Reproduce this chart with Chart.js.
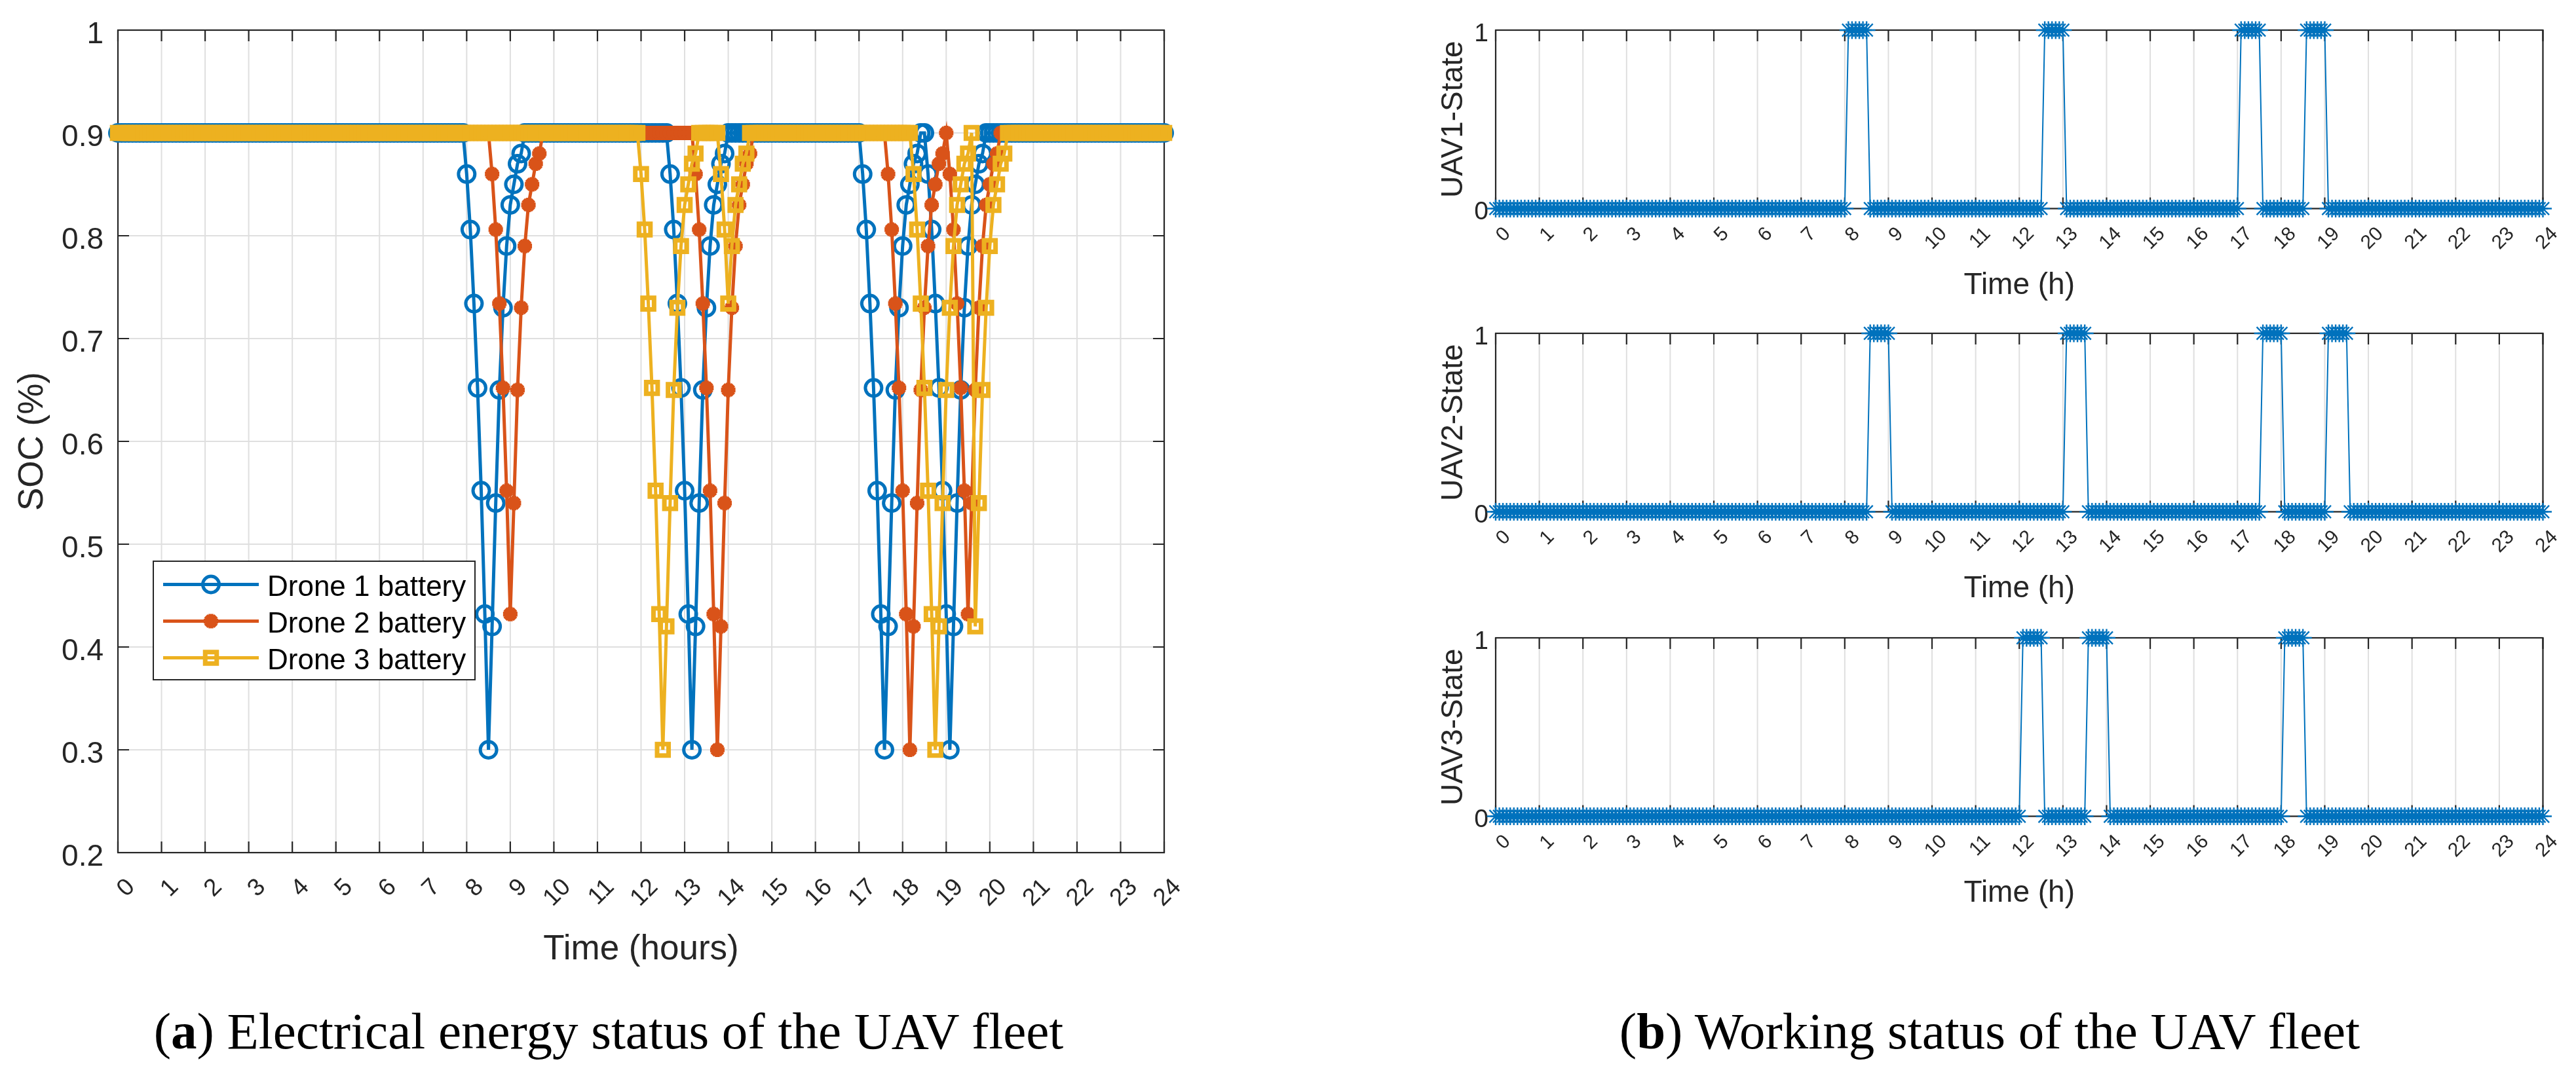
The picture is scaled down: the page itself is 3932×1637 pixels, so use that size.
<!DOCTYPE html>
<html>
<head>
<meta charset="utf-8">
<title>UAV fleet</title>
<script src="https://cdn.jsdelivr.net/npm/chart.js@4.4.1/dist/chart.umd.min.js"></script>
<style>
  html, body { margin: 0; padding: 0; background: #fff; }
  body { width: 3932px; height: 1637px; position: relative; overflow: hidden; }
  canvas { position: absolute; }
  .caption {
    position: absolute; top: 1535px; line-height: 79px; white-space: nowrap;
    font-family: "Liberation Serif", "Times New Roman", serif; font-size: 79px; color: #000;
    transform: translateX(-50%);
  }
</style>
</head>
<body>
<canvas id="socChart" width="1960" height="1500" style="left:0;top:0"></canvas>
<canvas id="uav1" width="1972" height="460" style="left:1960px;top:0"></canvas>
<canvas id="uav2" width="1972" height="460" style="left:1960px;top:463px"></canvas>
<canvas id="uav3" width="1972" height="460" style="left:1960px;top:928px"></canvas>
<div class="caption" style="left:929px">(<b>a</b>) Electrical energy status of the UAV fleet</div>
<div class="caption" style="left:3037px">(<b>b</b>) Working status of the UAV fleet</div>
<script>
// samples every 5 min from 0 h to 24 h, two hours per row
const socDrone1 = [
  0.9,0.9,0.9,0.9,0.9,0.9,0.9,0.9,0.9,0.9,0.9,0.9, 0.9,0.9,0.9,0.9,0.9,0.9,0.9,0.9,0.9,0.9,0.9,0.9,
  0.9,0.9,0.9,0.9,0.9,0.9,0.9,0.9,0.9,0.9,0.9,0.9, 0.9,0.9,0.9,0.9,0.9,0.9,0.9,0.9,0.9,0.9,0.9,0.9,
  0.9,0.9,0.9,0.9,0.9,0.9,0.9,0.9,0.9,0.9,0.9,0.9, 0.9,0.9,0.9,0.9,0.9,0.9,0.9,0.9,0.9,0.9,0.9,0.9,
  0.9,0.9,0.9,0.9,0.9,0.9,0.9,0.9,0.9,0.9,0.9,0.9, 0.9,0.9,0.9,0.9,0.9,0.9,0.9,0.9,0.9,0.9,0.9,0.9,
  0.86,0.806,0.734,0.652,0.552,0.432,0.3,0.42,0.54,0.65,0.73,0.79, 0.83,0.85,0.87,0.88,0.9,0.9,0.9,0.9,0.9,0.9,0.9,0.9,
  0.9,0.9,0.9,0.9,0.9,0.9,0.9,0.9,0.9,0.9,0.9,0.9, 0.9,0.9,0.9,0.9,0.9,0.9,0.9,0.9,0.9,0.9,0.9,0.9,
  0.9,0.9,0.9,0.9,0.9,0.9,0.9,0.9,0.86,0.806,0.734,0.652, 0.552,0.432,0.3,0.42,0.54,0.65,0.73,0.79,0.83,0.85,0.87,0.88,
  0.9,0.9,0.9,0.9,0.9,0.9,0.9,0.9,0.9,0.9,0.9,0.9, 0.9,0.9,0.9,0.9,0.9,0.9,0.9,0.9,0.9,0.9,0.9,0.9,
  0.9,0.9,0.9,0.9,0.9,0.9,0.9,0.9,0.9,0.9,0.9,0.9, 0.9,0.86,0.806,0.734,0.652,0.552,0.432,0.3,0.42,0.54,0.65,0.73,
  0.79,0.83,0.85,0.87,0.88,0.9,0.9,0.86,0.806,0.734,0.652,0.552, 0.432,0.3,0.42,0.54,0.65,0.73,0.79,0.83,0.85,0.87,0.88,0.9,
  0.9,0.9,0.9,0.9,0.9,0.9,0.9,0.9,0.9,0.9,0.9,0.9, 0.9,0.9,0.9,0.9,0.9,0.9,0.9,0.9,0.9,0.9,0.9,0.9,
  0.9,0.9,0.9,0.9,0.9,0.9,0.9,0.9,0.9,0.9,0.9,0.9, 0.9,0.9,0.9,0.9,0.9,0.9,0.9,0.9,0.9,0.9,0.9,0.9,
  0.9
];
const socDrone2 = [
  0.9,0.9,0.9,0.9,0.9,0.9,0.9,0.9,0.9,0.9,0.9,0.9, 0.9,0.9,0.9,0.9,0.9,0.9,0.9,0.9,0.9,0.9,0.9,0.9,
  0.9,0.9,0.9,0.9,0.9,0.9,0.9,0.9,0.9,0.9,0.9,0.9, 0.9,0.9,0.9,0.9,0.9,0.9,0.9,0.9,0.9,0.9,0.9,0.9,
  0.9,0.9,0.9,0.9,0.9,0.9,0.9,0.9,0.9,0.9,0.9,0.9, 0.9,0.9,0.9,0.9,0.9,0.9,0.9,0.9,0.9,0.9,0.9,0.9,
  0.9,0.9,0.9,0.9,0.9,0.9,0.9,0.9,0.9,0.9,0.9,0.9, 0.9,0.9,0.9,0.9,0.9,0.9,0.9,0.9,0.9,0.9,0.9,0.9,
  0.9,0.9,0.9,0.9,0.9,0.9,0.9,0.86,0.806,0.734,0.652,0.552, 0.432,0.54,0.65,0.73,0.79,0.83,0.85,0.87,0.88,0.9,0.9,0.9,
  0.9,0.9,0.9,0.9,0.9,0.9,0.9,0.9,0.9,0.9,0.9,0.9, 0.9,0.9,0.9,0.9,0.9,0.9,0.9,0.9,0.9,0.9,0.9,0.9,
  0.9,0.9,0.9,0.9,0.9,0.9,0.9,0.9,0.9,0.9,0.9,0.9, 0.9,0.9,0.9,0.86,0.806,0.734,0.652,0.552,0.432,0.3,0.42,0.54,
  0.65,0.73,0.79,0.83,0.85,0.87,0.88,0.9,0.9,0.9,0.9,0.9, 0.9,0.9,0.9,0.9,0.9,0.9,0.9,0.9,0.9,0.9,0.9,0.9,
  0.9,0.9,0.9,0.9,0.9,0.9,0.9,0.9,0.9,0.9,0.9,0.9, 0.9,0.9,0.9,0.9,0.9,0.9,0.9,0.9,0.86,0.806,0.734,0.652,
  0.552,0.432,0.3,0.42,0.54,0.65,0.73,0.79,0.83,0.85,0.87,0.88, 0.9,0.86,0.806,0.734,0.652,0.552,0.432,0.54,0.65,0.73,0.79,0.83,
  0.85,0.87,0.88,0.9,0.9,0.9,0.9,0.9,0.9,0.9,0.9,0.9, 0.9,0.9,0.9,0.9,0.9,0.9,0.9,0.9,0.9,0.9,0.9,0.9,
  0.9,0.9,0.9,0.9,0.9,0.9,0.9,0.9,0.9,0.9,0.9,0.9, 0.9,0.9,0.9,0.9,0.9,0.9,0.9,0.9,0.9,0.9,0.9,0.9,
  0.9
];
const socDrone3 = [
  0.9,0.9,0.9,0.9,0.9,0.9,0.9,0.9,0.9,0.9,0.9,0.9, 0.9,0.9,0.9,0.9,0.9,0.9,0.9,0.9,0.9,0.9,0.9,0.9,
  0.9,0.9,0.9,0.9,0.9,0.9,0.9,0.9,0.9,0.9,0.9,0.9, 0.9,0.9,0.9,0.9,0.9,0.9,0.9,0.9,0.9,0.9,0.9,0.9,
  0.9,0.9,0.9,0.9,0.9,0.9,0.9,0.9,0.9,0.9,0.9,0.9, 0.9,0.9,0.9,0.9,0.9,0.9,0.9,0.9,0.9,0.9,0.9,0.9,
  0.9,0.9,0.9,0.9,0.9,0.9,0.9,0.9,0.9,0.9,0.9,0.9, 0.9,0.9,0.9,0.9,0.9,0.9,0.9,0.9,0.9,0.9,0.9,0.9,
  0.9,0.9,0.9,0.9,0.9,0.9,0.9,0.9,0.9,0.9,0.9,0.9, 0.9,0.9,0.9,0.9,0.9,0.9,0.9,0.9,0.9,0.9,0.9,0.9,
  0.9,0.9,0.9,0.9,0.9,0.9,0.9,0.9,0.9,0.9,0.9,0.9, 0.9,0.9,0.9,0.9,0.9,0.9,0.9,0.9,0.9,0.9,0.9,0.9,
  0.86,0.806,0.734,0.652,0.552,0.432,0.3,0.42,0.54,0.65,0.73,0.79, 0.83,0.85,0.87,0.88,0.9,0.9,0.9,0.9,0.9,0.9,0.86,0.806,
  0.734,0.79,0.83,0.85,0.87,0.88,0.9,0.9,0.9,0.9,0.9,0.9, 0.9,0.9,0.9,0.9,0.9,0.9,0.9,0.9,0.9,0.9,0.9,0.9,
  0.9,0.9,0.9,0.9,0.9,0.9,0.9,0.9,0.9,0.9,0.9,0.9, 0.9,0.9,0.9,0.9,0.9,0.9,0.9,0.9,0.9,0.9,0.9,0.9,
  0.9,0.9,0.9,0.86,0.806,0.734,0.652,0.552,0.432,0.3,0.42,0.54, 0.65,0.73,0.79,0.83,0.85,0.87,0.88,0.9,0.42,0.54,0.65,0.73,
  0.79,0.83,0.85,0.87,0.88,0.9,0.9,0.9,0.9,0.9,0.9,0.9, 0.9,0.9,0.9,0.9,0.9,0.9,0.9,0.9,0.9,0.9,0.9,0.9,
  0.9,0.9,0.9,0.9,0.9,0.9,0.9,0.9,0.9,0.9,0.9,0.9, 0.9,0.9,0.9,0.9,0.9,0.9,0.9,0.9,0.9,0.9,0.9,0.9,
  0.9
];

const stateUav1 = [
  0,0,0,0,0,0,0,0,0,0,0,0, 0,0,0,0,0,0,0,0,0,0,0,0,
  0,0,0,0,0,0,0,0,0,0,0,0, 0,0,0,0,0,0,0,0,0,0,0,0,
  0,0,0,0,0,0,0,0,0,0,0,0, 0,0,0,0,0,0,0,0,0,0,0,0,
  0,0,0,0,0,0,0,0,0,0,0,0, 0,0,0,0,0,0,0,0,0,0,0,0,
  0,1,1,1,1,1,1,0,0,0,0,0, 0,0,0,0,0,0,0,0,0,0,0,0,
  0,0,0,0,0,0,0,0,0,0,0,0, 0,0,0,0,0,0,0,0,0,0,0,0,
  0,0,0,0,0,0,0,1,1,1,1,1, 1,0,0,0,0,0,0,0,0,0,0,0,
  0,0,0,0,0,0,0,0,0,0,0,0, 0,0,0,0,0,0,0,0,0,0,0,0,
  0,0,0,0,0,0,0,0,0,0,0,0, 0,1,1,1,1,1,1,0,0,0,0,0,
  0,0,0,0,0,0,0,1,1,1,1,1, 1,0,0,0,0,0,0,0,0,0,0,0,
  0,0,0,0,0,0,0,0,0,0,0,0, 0,0,0,0,0,0,0,0,0,0,0,0,
  0,0,0,0,0,0,0,0,0,0,0,0, 0,0,0,0,0,0,0,0,0,0,0,0,
  0
];
const stateUav2 = [
  0,0,0,0,0,0,0,0,0,0,0,0, 0,0,0,0,0,0,0,0,0,0,0,0,
  0,0,0,0,0,0,0,0,0,0,0,0, 0,0,0,0,0,0,0,0,0,0,0,0,
  0,0,0,0,0,0,0,0,0,0,0,0, 0,0,0,0,0,0,0,0,0,0,0,0,
  0,0,0,0,0,0,0,0,0,0,0,0, 0,0,0,0,0,0,0,0,0,0,0,0,
  0,0,0,0,0,0,0,1,1,1,1,1, 1,0,0,0,0,0,0,0,0,0,0,0,
  0,0,0,0,0,0,0,0,0,0,0,0, 0,0,0,0,0,0,0,0,0,0,0,0,
  0,0,0,0,0,0,0,0,0,0,0,0, 0,1,1,1,1,1,1,0,0,0,0,0,
  0,0,0,0,0,0,0,0,0,0,0,0, 0,0,0,0,0,0,0,0,0,0,0,0,
  0,0,0,0,0,0,0,0,0,0,0,0, 0,0,0,0,0,0,0,1,1,1,1,1,
  1,0,0,0,0,0,0,0,0,0,0,0, 0,1,1,1,1,1,1,0,0,0,0,0,
  0,0,0,0,0,0,0,0,0,0,0,0, 0,0,0,0,0,0,0,0,0,0,0,0,
  0,0,0,0,0,0,0,0,0,0,0,0, 0,0,0,0,0,0,0,0,0,0,0,0,
  0
];
const stateUav3 = [
  0,0,0,0,0,0,0,0,0,0,0,0, 0,0,0,0,0,0,0,0,0,0,0,0,
  0,0,0,0,0,0,0,0,0,0,0,0, 0,0,0,0,0,0,0,0,0,0,0,0,
  0,0,0,0,0,0,0,0,0,0,0,0, 0,0,0,0,0,0,0,0,0,0,0,0,
  0,0,0,0,0,0,0,0,0,0,0,0, 0,0,0,0,0,0,0,0,0,0,0,0,
  0,0,0,0,0,0,0,0,0,0,0,0, 0,0,0,0,0,0,0,0,0,0,0,0,
  0,0,0,0,0,0,0,0,0,0,0,0, 0,0,0,0,0,0,0,0,0,0,0,0,
  0,1,1,1,1,1,1,0,0,0,0,0, 0,0,0,0,0,0,0,1,1,1,1,1,
  1,0,0,0,0,0,0,0,0,0,0,0, 0,0,0,0,0,0,0,0,0,0,0,0,
  0,0,0,0,0,0,0,0,0,0,0,0, 0,0,0,0,0,0,0,0,0,0,0,0,
  0,1,1,1,1,1,1,0,0,0,0,0, 0,0,0,0,0,0,0,0,0,0,0,0,
  0,0,0,0,0,0,0,0,0,0,0,0, 0,0,0,0,0,0,0,0,0,0,0,0,
  0,0,0,0,0,0,0,0,0,0,0,0, 0,0,0,0,0,0,0,0,0,0,0,0,
  0
];

const hourTicks = [0,1,2,3,4,5,6,7,8,9,10,11,12,13,14,15,16,17,18,19,20,21,22,23,24];
const hourLabels = ['0','1','2','3','4','5','6','7','8','9','10','11','12','13','14','15','16','17','18','19','20','21','22','23','24'];
const socTicks = [0.2,0.3,0.4,0.5,0.6,0.7,0.8,0.9,1];
const socLabels = ['0.2','0.3','0.4','0.5','0.6','0.7','0.8','0.9','1'];
const stateTicks = [0,1];
const stateLabels = ['0','1'];

// one sample every 5 minutes
const timeH = socDrone1.map((_, k) => k / 12);

const BLUE = '#0072BD', ORANGE = '#D95319', YELLOW = '#EDB120';
const AXIS_COLOR = '#262626', GRID_COLOR = '#dfdfdf';
const SANS = '"Liberation Sans", Arial, Helvetica, sans-serif';

function drawMarker(ctx, style, x, y, r) {
  ctx.beginPath();
  if (style === 'circle') {
    ctx.arc(x, y, r, 0, Math.PI * 2);
  } else if (style === 'rect') {
    const s = r * Math.SQRT1_2;
    ctx.rect(x - s, y - s, 2 * s, 2 * s);
  } else {
    for (let i = 0; i < 4; i++) {
      const dx = Math.sin(i * Math.PI / 4) * r, dy = Math.cos(i * Math.PI / 4) * r;
      ctx.moveTo(x - dx, y - dy);
      ctx.lineTo(x + dx, y + dy);
    }
  }
  ctx.stroke();
}

// matlab style box: grid, inner ticks, rotated tick labels, axis titles
const matlabAxes = {
  id: 'matlabAxes',
  beforeDatasetsDraw(chart, args, o) {
    const { ctx, chartArea: a } = chart;
    const sx = chart.scales.x, sy = chart.scales.y;
    ctx.save();

    ctx.strokeStyle = GRID_COLOR;
    ctx.lineWidth = 2;
    ctx.beginPath();
    o.xTicks.forEach(v => {
      const p = sx.getPixelForValue(v);
      ctx.moveTo(p, a.top); ctx.lineTo(p, a.bottom);
    });
    o.yTicks.forEach(v => {
      const p = sy.getPixelForValue(v);
      ctx.moveTo(a.left, p); ctx.lineTo(a.right, p);
    });
    ctx.stroke();

    ctx.strokeStyle = AXIS_COLOR;
    ctx.lineWidth = 2.2;
    ctx.beginPath();
    o.xTicks.forEach(v => {
      const p = sx.getPixelForValue(v);
      ctx.moveTo(p, a.bottom); ctx.lineTo(p, a.bottom - o.tickLen);
      ctx.moveTo(p, a.top); ctx.lineTo(p, a.top + o.tickLen);
    });
    o.yTicks.forEach(v => {
      const p = sy.getPixelForValue(v);
      ctx.moveTo(a.left, p); ctx.lineTo(a.left + o.tickLen, p);
      ctx.moveTo(a.right, p); ctx.lineTo(a.right - o.tickLen, p);
    });
    ctx.stroke();
    ctx.strokeRect(a.left, a.top, a.right - a.left, a.bottom - a.top);

    ctx.fillStyle = AXIS_COLOR;
    ctx.font = o.yFont + 'px ' + SANS;
    ctx.textAlign = 'right';
    ctx.textBaseline = 'alphabetic';
    o.yTicks.forEach((v, i) => {
      ctx.fillText(o.yLabels[i], a.left - o.yGap, sy.getPixelForValue(v) + o.yBase);
    });

    ctx.font = o.xFont + 'px ' + SANS;
    ctx.textBaseline = 'middle';
    o.xTicks.forEach((v, i) => {
      ctx.save();
      ctx.translate(sx.getPixelForValue(v) + o.xDx, a.bottom + o.xDy);
      ctx.rotate(-Math.PI / 4);
      ctx.fillText(o.xLabels[i], 0, 0);
      ctx.restore();
    });

    ctx.font = o.titleFont + 'px ' + SANS;
    ctx.textAlign = 'center';
    ctx.textBaseline = 'alphabetic';
    ctx.fillText(o.xTitle, (a.left + a.right) / 2, a.bottom + o.xTitleDy);
    ctx.save();
    ctx.translate(o.yTitleX, (a.top + a.bottom) / 2);
    ctx.rotate(-Math.PI / 2);
    ctx.fillText(o.yTitle, 0, 0);
    ctx.restore();

    ctx.restore();
  }
};

const droneLegend = {
  id: 'droneLegend',
  afterDraw(chart, args, o) {
    const ctx = chart.ctx;
    ctx.save();
    ctx.fillStyle = '#fff';
    ctx.fillRect(o.x, o.y, o.w, o.h);
    ctx.strokeStyle = AXIS_COLOR;
    ctx.lineWidth = 2;
    ctx.strokeRect(o.x, o.y, o.w, o.h);
    chart.data.datasets.forEach((ds, i) => {
      const cy = o.y + o.firstRow + i * o.rowGap;
      ctx.strokeStyle = ds.borderColor;
      ctx.lineWidth = ds.borderWidth;
      ctx.beginPath();
      ctx.moveTo(o.x + 15, cy);
      ctx.lineTo(o.x + 161, cy);
      ctx.stroke();
      ctx.lineWidth = ds.pointBorderWidth;
      drawMarker(ctx, ds.pointStyle, o.x + 88, cy, ds.pointRadius);
      ctx.fillStyle = '#000';
      ctx.font = '44px ' + SANS;
      ctx.textAlign = 'left';
      ctx.fillText(ds.label, o.x + 174, cy + 17);
    });
    ctx.restore();
  }
};

function socDataset(label, data, color, style, radius, pbw, order) {
  return {
    label: label, data: data, order: order,
    borderColor: color, borderWidth: 5,
    pointStyle: style, pointRadius: radius, pointBorderWidth: pbw,
    pointBorderColor: color, pointBackgroundColor: 'rgba(0,0,0,0)',
    tension: 0, clip: false
  };
}

new Chart(document.getElementById('socChart'), {
  type: 'line',
  data: {
    labels: timeH,
    datasets: [
      socDataset('Drone 1 battery', socDrone1, BLUE, 'circle', 12.5, 5, 3),
      socDataset('Drone 2 battery', socDrone2, ORANGE, 'star', 11, 7.5, 2),
      socDataset('Drone 3 battery', socDrone3, YELLOW, 'rect', 12.4, 7, 1)
    ]
  },
  options: {
    responsive: false, animation: false, devicePixelRatio: 1,
    layout: { padding: { left: 180, top: 46, right: 183, bottom: 198 } },
    scales: {
      x: { type: 'linear', min: 0, max: 24, display: false },
      y: { type: 'linear', min: 0.2, max: 1, display: false }
    },
    plugins: {
      legend: { display: false },
      tooltip: { enabled: false },
      matlabAxes: {
        xTicks: hourTicks, xLabels: hourLabels, yTicks: socTicks, yLabels: socLabels,
        tickLen: 17, yFont: 46, yGap: 22, yBase: 20,
        xFont: 37, xDx: 20, xDy: 47,
        titleFont: 53, xTitle: 'Time (hours)', xTitleDy: 163,
        yTitle: 'SOC (%)', yTitleX: 65
      },
      droneLegend: { x: 234, y: 857, w: 491, h: 181, firstRow: 35.5, rowGap: 56 }
    }
  },
  plugins: [matlabAxes, droneLegend]
});

function makeStateChart(id, data, yTitle) {
  return new Chart(document.getElementById(id), {
    type: 'line',
    data: {
      labels: timeH,
      datasets: [{
        label: yTitle, data: data,
        borderColor: BLUE, borderWidth: 2,
        pointStyle: 'star', pointRadius: 13.5, pointBorderWidth: 2.4,
        pointBorderColor: BLUE, pointBackgroundColor: 'rgba(0,0,0,0)',
        tension: 0, clip: false
      }]
    },
    options: {
      responsive: false, animation: false, devicePixelRatio: 1,
      layout: { padding: { left: 323, top: 46, right: 50.5, bottom: 141.5 } },
      scales: {
        x: { type: 'linear', min: 0, max: 24, display: false },
        y: { type: 'linear', min: 0, max: 1, display: false }
      },
      plugins: {
        legend: { display: false },
        tooltip: { enabled: false },
        matlabAxes: {
          xTicks: hourTicks, xLabels: hourLabels, yTicks: stateTicks, yLabels: stateLabels,
          tickLen: 17, yFont: 39, yGap: 11, yBase: 16.5,
          xFont: 30, xDx: 18, xDy: 34,
          titleFont: 46, xTitle: 'Time (h)', xTitleDy: 130,
          yTitle: yTitle, yTitleX: 272
        }
      }
    },
    plugins: [matlabAxes]
  });
}

makeStateChart('uav1', stateUav1, 'UAV1-State');
makeStateChart('uav2', stateUav2, 'UAV2-State');
makeStateChart('uav3', stateUav3, 'UAV3-State');
</script>
</body>
</html>
